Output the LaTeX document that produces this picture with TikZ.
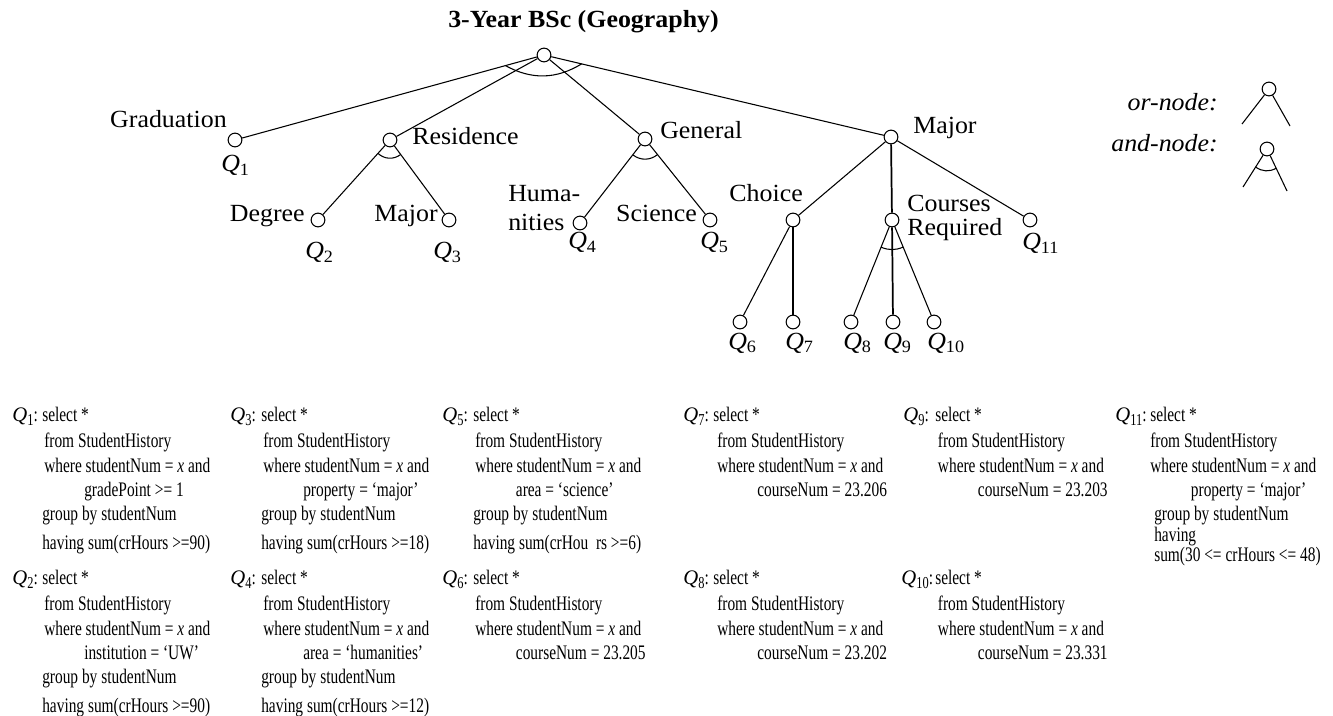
\documentclass[tikz,border=0pt]{standalone}
\usepackage{fontspec}
\setmainfont{Liberation Serif}
\newfontfamily\treefont[FakeStretch=1.05]{Liberation Serif}
\newfontfamily\qfont[FakeStretch=0.745]{Liberation Serif}
\usetikzlibrary{calc}
\newcommand\QQ[1]{\textit{Q}\textsubscript{#1}}
\newcommand\QL[1]{\textit{Q}\kern0.2pt\raisebox{-0.22em}{\qfont\fontsize{12.5}{12.5}\selectfont #1}{\qfont :}}
\begin{document}
\begin{tikzpicture}[x=0.75pt,y=-0.75pt,
 nd/.style={circle,draw,fill=white,minimum size=10.3pt,inner sep=0pt,line width=0.8pt},
 edge/.style={line width=0.8pt},
 vedge/.style={line width=1.3pt},
 lbl/.style={inner sep=0pt,font=\treefont\fontsize{18.5}{16.5}\selectfont},
 ql/.style={inner sep=0pt,anchor=base west,font=\fontsize{15.5}{18}\selectfont},
 qb/.style={inner sep=0pt,anchor=base west,font=\qfont\fontsize{15.5}{18.2}\selectfont}
]
\useasboundingbox (0,0) rectangle (1333,716);

% title
\node[lbl,anchor=base,font=\treefont\fontsize{18.5}{22}\selectfont\bfseries] (title) at (583.5,28) {3-Year BSc (Geography)};

% tree nodes
\node[nd] (root) at (544,55) {};
\node[nd] (grad) at (235,140) {};
\node[nd] (res) at (390,140) {};
\node[nd] (deg) at (318,220) {};
\node[nd] (resmaj) at (449,220) {};
\node[nd] (gen) at (645,139) {};
\node[nd] (hum) at (580,223) {};
\node[nd] (sci) at (710,220) {};
\node[nd] (maj) at (891,137) {};
\node[nd] (cho) at (793,220) {};
\node[nd] (crs) at (892,220) {};
\node[nd] (q11) at (1030,220) {};
\node[nd] (q6) at (740,322) {};
\node[nd] (q7) at (793,322) {};
\node[nd] (q8) at (851,322) {};
\node[nd] (q9) at (893,322) {};
\node[nd] (q10) at (934,322) {};

% edges
\draw[edge] (root) -- (grad);
\draw[edge] (root) -- (res);
\draw[edge] (root) -- (gen);
\draw[edge] (root) -- (maj);
\draw[edge] (res) -- (deg);
\draw[edge] (res) -- (resmaj);
\draw[edge] (gen) -- (hum);
\draw[edge] (gen) -- (sci);
\draw[edge] (maj) -- (cho);
\draw[vedge] (maj) -- (crs);
\draw[edge] (maj) -- (q11);
\draw[edge] (cho) -- (q6);
\draw[vedge] (cho) -- (q7);
\draw[edge] (crs) -- (q8);
\draw[vedge] (crs) -- (q9);
\draw[edge] (crs) -- (q10);

% and-arcs
\draw[edge] ($(root)!30pt!(grad)$) to[bend right=30] ($(root)!29pt!(maj)$);
\draw[edge] ($(res)!13.5pt!(deg)$) to[bend right=40] ($(res)!13.5pt!(resmaj)$);
\draw[edge] ($(gen)!15pt!(hum)$) to[bend right=38] ($(gen)!15pt!(sci)$);
\draw[edge] ($(crs)!22pt!(q8)$) to[bend right=22] ($(crs)!22pt!(q10)$);

% tree labels
\node[lbl,anchor=base east] (lgrad) at (227,128) {Graduation};
\node[lbl,anchor=base west] (lres) at (412,145) {Residence};
\node[lbl,anchor=base east] (ldeg) at (305,222) {Degree};
\node[lbl,anchor=base east] (lresmaj) at (438,222) {Major};
\node[lbl,anchor=base west] (lhum1) at (508,202) {Huma-};
\node[lbl,anchor=base west] (lhum2) at (508,231) {nities};
\node[lbl,anchor=base east] (lsci) at (697,222) {Science};
\node[lbl,anchor=base west] (lgen) at (660,139) {General};
\node[lbl,anchor=base west] (lmaj) at (913,134) {Major};
\node[lbl,anchor=base east] (lcho) at (803,202) {Choice};
\node[lbl,anchor=base west] (lcrs) at (907,212) {\begin{tabular}[t]{@{}l@{}}Courses\\Required\end{tabular}};

\node[lbl,anchor=base west] (tq1) at (221,172) {\QQ{1}};
\node[lbl,anchor=base west] (tq2) at (305,259) {\QQ{2}};
\node[lbl,anchor=base west] (tq3) at (433,259) {\QQ{3}};
\node[lbl,anchor=base west] (tq4) at (568,249) {\QQ{4}};
\node[lbl,anchor=base west] (tq5) at (700,249) {\QQ{5}};
\node[lbl,anchor=base west] (tq11) at (1022,250) {\QQ{11}};
\node[lbl,anchor=base west] (tq6) at (728,349) {\QQ{6}};
\node[lbl,anchor=base west] (tq7) at (785,349) {\QQ{7}};
\node[lbl,anchor=base west] (tq8) at (843,349) {\QQ{8}};
\node[lbl,anchor=base west] (tq9) at (883,349) {\QQ{9}};
\node[lbl,anchor=base west] (tq10) at (927,349) {\QQ{10}};

% legend
\node[lbl,anchor=base east] (lor) at (1218,111) {\textit{or-node:}};
\node[lbl,anchor=base east] (land) at (1218,152) {\textit{and-node:}};
\node[nd] (ornd) at (1269,89) {};
\coordinate (orl) at (1242,124);
\coordinate (orr) at (1290,126);
\draw[edge] (ornd) -- (orl);
\draw[edge] (ornd) -- (orr);
\node[nd] (andnd) at (1267,149) {};
\coordinate (andl) at (1243,187);
\coordinate (andr) at (1287,191);
\draw[edge] (andnd) -- (andl);
\draw[edge] (andnd) -- (andr);
\draw[edge] ($(andnd)!16pt!(andl)$) to[bend right=32] ($(andnd)!16pt!(andr)$);

% queries, row 1
\node[ql] (ql1) at (12,421) {\QL{1}};
\node[qb] (qb1) at (42,421) {\begin{tabular}[t]{@{}l@{}}
select *\\[2pt]
\hspace*{1.5pt}from StudentHistory\\
\hspace*{1.5pt}where studentNum = \textit{x} and\\
\hspace*{31.5pt}gradePoint >= 1\\
group by studentNum\\[3.5pt]
having sum(crHours >=90)
\end{tabular}};
\node[ql] (ql3) at (230,421) {\QL{3}};
\node[qb] (qb3) at (261,421) {\begin{tabular}[t]{@{}l@{}}
select *\\[2pt]
\hspace*{1.5pt}from StudentHistory\\
\hspace*{1.5pt}where studentNum = \textit{x} and\\
\hspace*{31.5pt}property = ‘major’\\
group by studentNum\\[3.5pt]
having sum(crHours >=18)
\end{tabular}};
\node[ql] (ql5) at (442,421) {\QL{5}};
\node[qb] (qb5) at (473,421) {\begin{tabular}[t]{@{}l@{}}
select *\\[2pt]
\hspace*{1.5pt}from StudentHistory\\
\hspace*{1.5pt}where studentNum = \textit{x} and\\
\hspace*{32pt}area = ‘science’\\
group by studentNum\\[3.5pt]
having sum(crHou\ \ rs >=6)
\end{tabular}};
\node[ql] (ql7) at (683,421) {\QL{7}};
\node[qb] (qb7) at (713,421) {\begin{tabular}[t]{@{}l@{}}
select *\\[2pt]
\hspace*{3pt}from StudentHistory\\
\hspace*{3pt}where studentNum = \textit{x} and\\
\hspace*{33pt}courseNum = 23.206
\end{tabular}};
\node[ql] (ql9) at (903,421) {\QL{9}};
\node[qb] (qb9) at (935,421) {\begin{tabular}[t]{@{}l@{}}
select *\\[2pt]
\hspace*{2pt}from StudentHistory\\
\hspace*{2pt}where studentNum = \textit{x} and\\
\hspace*{32pt}courseNum = 23.203
\end{tabular}};
\node[ql] (ql11) at (1115,421) {\QL{11}};
\node[qb] (qb11) at (1150,421) {\begin{tabular}[t]{@{}l@{}}
select *\\[2pt]
\hspace*{0pt}from StudentHistory\\
\hspace*{0pt}where studentNum = \textit{x} and\\
\hspace*{30.5pt}property = ‘major’\\
\hspace*{3pt}group by studentNum\\[-2.5pt]
\hspace*{3pt}having\\[-3pt]
\hspace*{3pt}sum(30 <= crHours <= 48)
\end{tabular}};

% queries, row 2
\node[ql] (ql2) at (12,584) {\QL{2}};
\node[qb] (qb2) at (42,584) {\begin{tabular}[t]{@{}l@{}}
select *\\[2pt]
\hspace*{1.5pt}from StudentHistory\\
\hspace*{1.5pt}where studentNum = \textit{x} and\\
\hspace*{31.5pt}institution = ‘UW’\\
group by studentNum\\[3.5pt]
having sum(crHours >=90)
\end{tabular}};
\node[ql] (ql4) at (230,584) {\QL{4}};
\node[qb] (qb4) at (261,584) {\begin{tabular}[t]{@{}l@{}}
select *\\[2pt]
\hspace*{1.5pt}from StudentHistory\\
\hspace*{1.5pt}where studentNum = \textit{x} and\\
\hspace*{31.5pt}area = ‘humanities’\\
group by studentNum\\[3.5pt]
having sum(crHours >=12)
\end{tabular}};
\node[ql] (ql6) at (442,584) {\QL{6}};
\node[qb] (qb6) at (473,584) {\begin{tabular}[t]{@{}l@{}}
select *\\[2pt]
\hspace*{1.5pt}from StudentHistory\\
\hspace*{1.5pt}where studentNum = \textit{x} and\\
\hspace*{32pt}courseNum = 23.205
\end{tabular}};
\node[ql] (ql8) at (683,584) {\QL{8}};
\node[qb] (qb8) at (713,584) {\begin{tabular}[t]{@{}l@{}}
select *\\[2pt]
\hspace*{3pt}from StudentHistory\\
\hspace*{3pt}where studentNum = \textit{x} and\\
\hspace*{33pt}courseNum = 23.202
\end{tabular}};
\node[ql] (ql10) at (901,584) {\QL{10}};
\node[qb] (qb10) at (935,584) {\begin{tabular}[t]{@{}l@{}}
select *\\[2pt]
\hspace*{2pt}from StudentHistory\\
\hspace*{2pt}where studentNum = \textit{x} and\\
\hspace*{32pt}courseNum = 23.331
\end{tabular}};
\end{tikzpicture}
\end{document}
